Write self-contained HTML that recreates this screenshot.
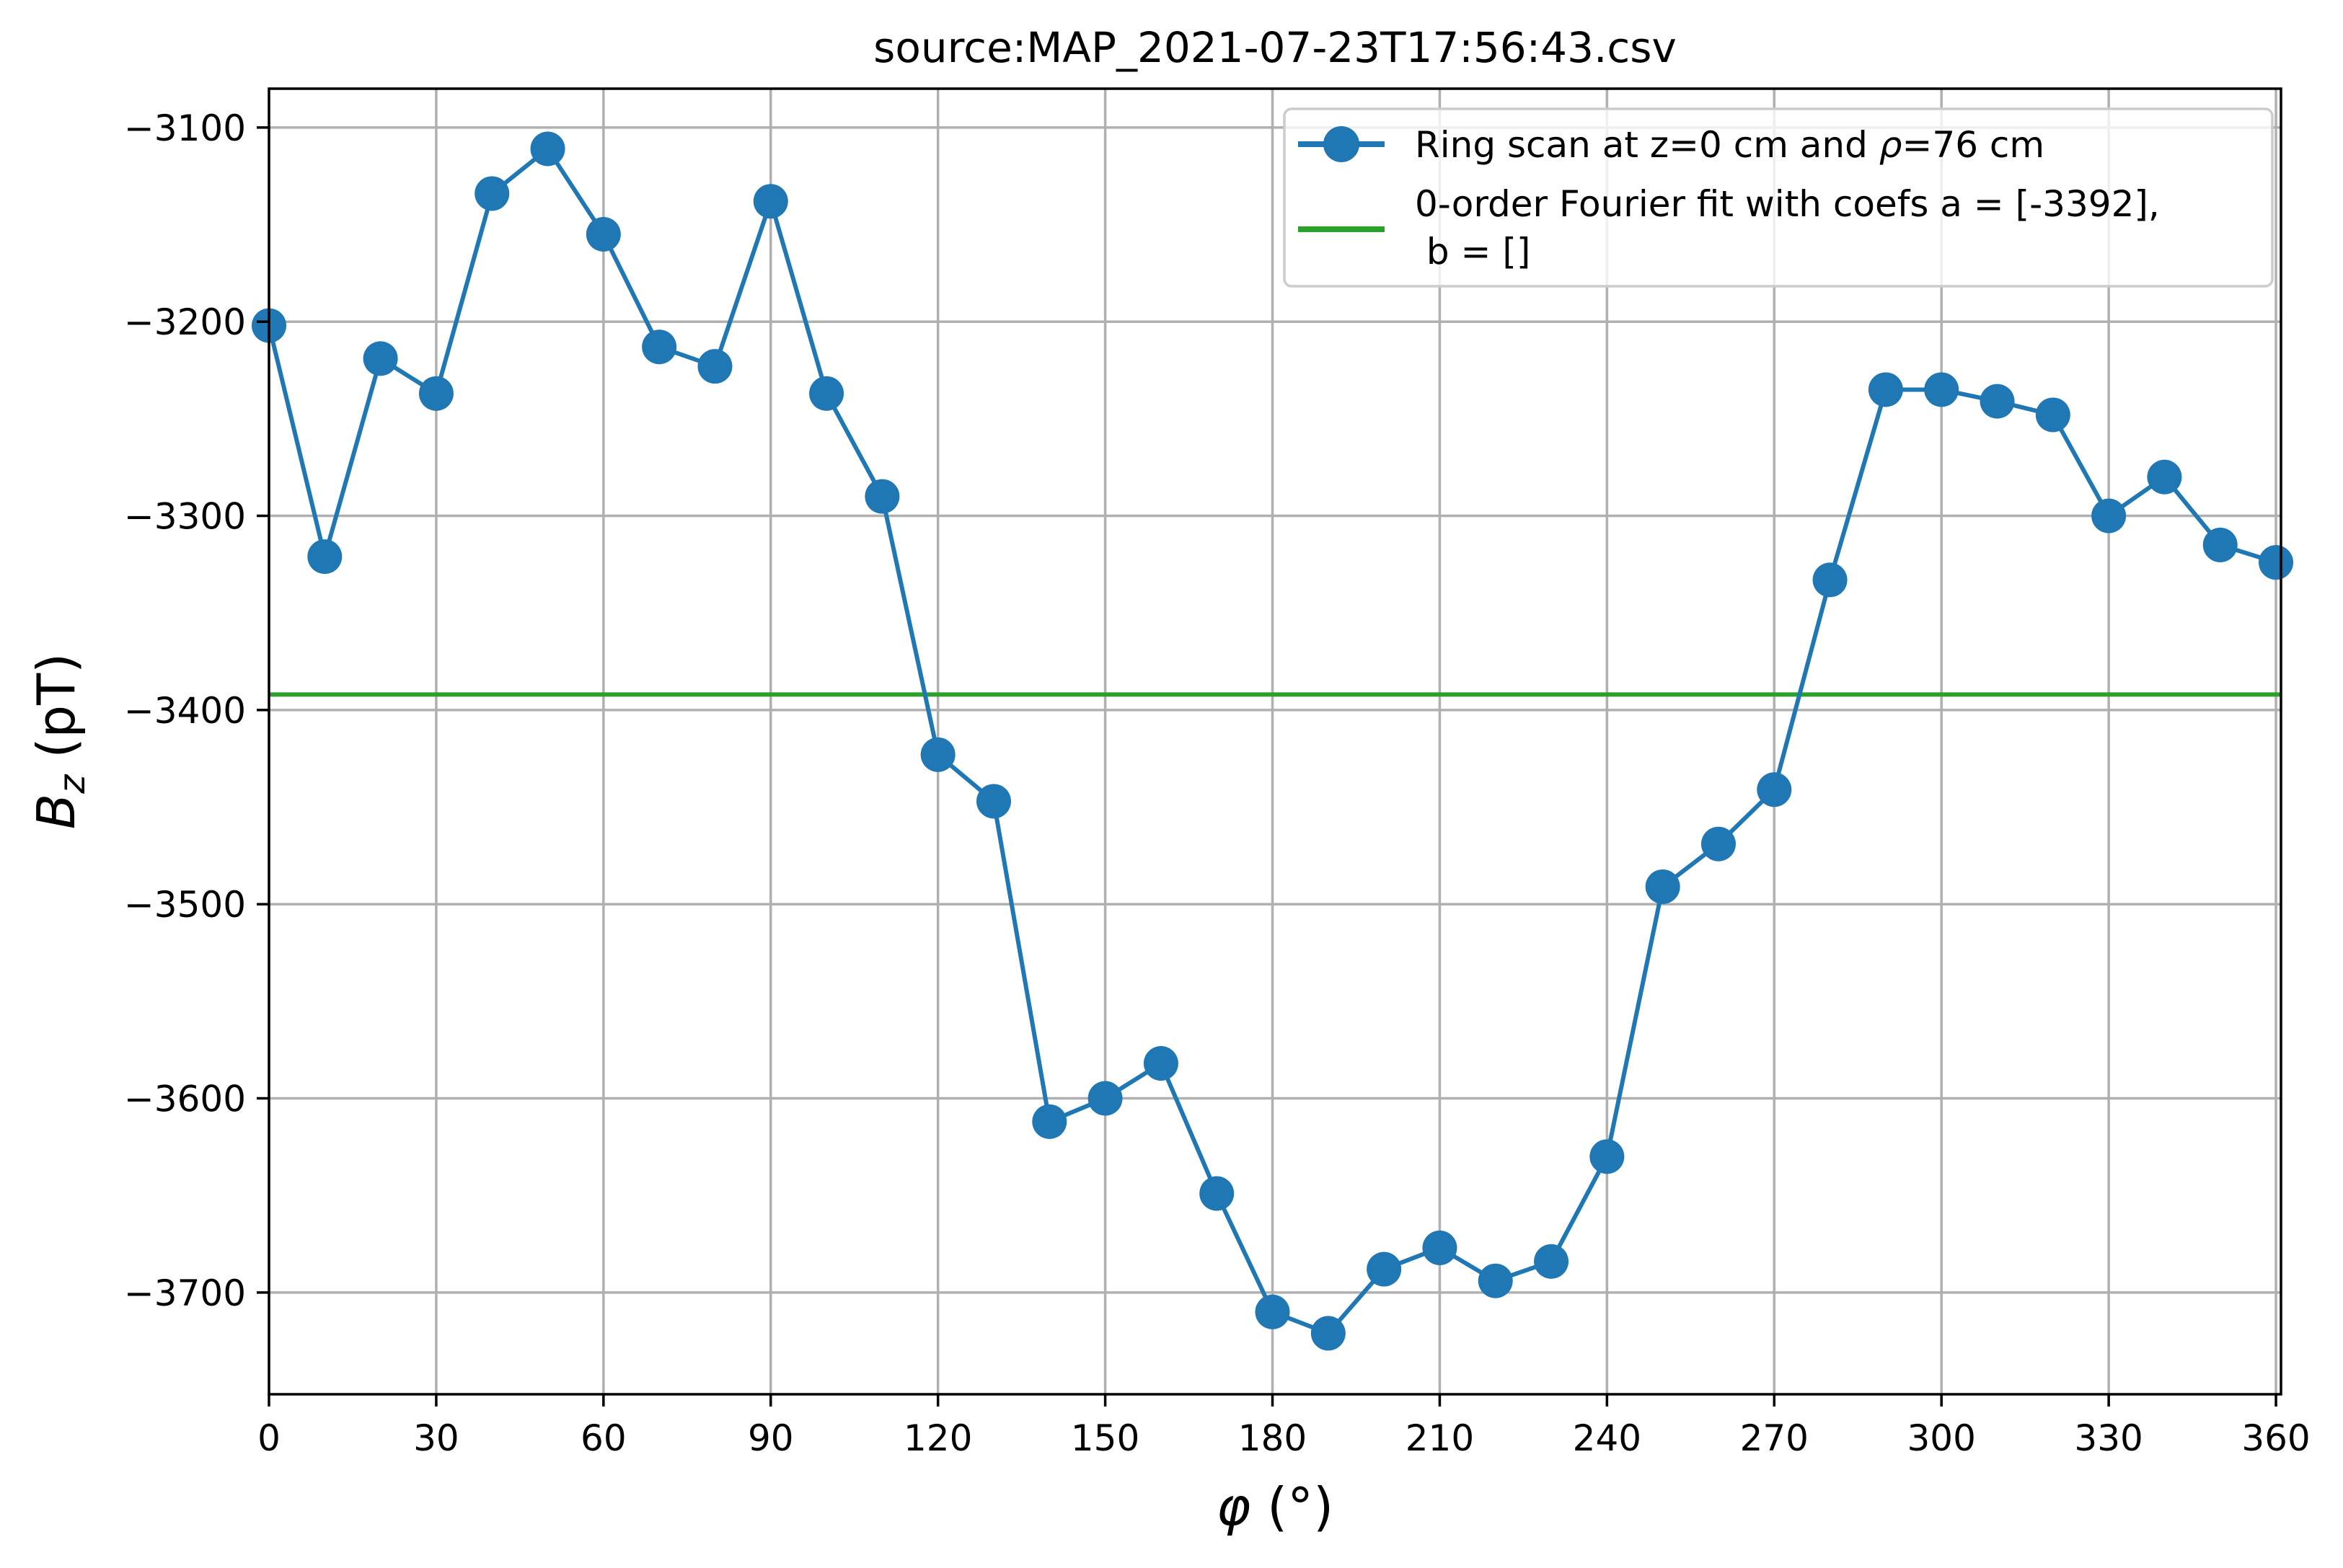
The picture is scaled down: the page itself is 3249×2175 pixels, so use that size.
<!DOCTYPE html>
<html><head><meta charset="utf-8"><style>
html,body{margin:0;padding:0;background:#fff}
svg{display:block}
text{font-family:"DejaVu Sans","Liberation Sans",sans-serif;fill:#000}
</style></head><body>
<svg id="chart" width="3249" height="2175" viewBox="0 0 3249 2175" xmlns="http://www.w3.org/2000/svg">
<rect width="3249" height="2175" fill="#fff"/>
<text x="1768" y="86" font-size="58" text-anchor="middle">source:MAP_2021-07-23T17:56:43.csv</text>
<g id="grid"></g>
<g id="fit"></g>
<g id="series"></g>
<rect x="373" y="123" width="2790" height="1811" fill="none" stroke="#000" stroke-width="3.5"/>
<g id="ticks"></g>
<text x="1768" y="2115" font-size="72" text-anchor="middle"><tspan font-style="italic">φ</tspan> (°)</text>
<text transform="translate(103,1028) rotate(-90)" font-size="72" text-anchor="middle"><tspan font-style="italic">B</tspan><tspan font-style="italic" font-size="50" dy="14">z</tspan><tspan dy="-14"> (pT)</tspan></text>
<g>
<rect x="1781" y="151" width="1370" height="246" rx="10" fill="#fff" fill-opacity="0.8" stroke="#ccc" stroke-width="3.5"/>
<line x1="1800" y1="200" x2="1920" y2="200" stroke="#1f77b4" stroke-width="8"/>
<circle cx="1860" cy="200" r="25" fill="#1f77b4"/>
<text x="1962" y="218" font-size="50">Ring scan at z=0 cm and <tspan font-style="italic">ρ</tspan>=76 cm</text>
<line x1="1800" y1="318" x2="1920" y2="318" stroke="#2ca02c" stroke-width="8"/>
<text x="1962" y="300" font-size="50">0-order Fourier fit with coefs a = [-3392],</text>
<text x="1962" y="366" font-size="50" xml:space="preserve"> b = []</text>
</g>
</svg>
<script>
const phi = [0,10,20,30,40,50,60,70,80,90,100,110,120,130,140,150,160,170,180,190,200,210,220,230,240,250,260,270,280,290,300,310,320,330,340,350,360];
const bz = [-3202,-3321,-3219,-3237,-3134,-3111,-3155,-3213,-3223,-3138,-3237,-3290,-3423,-3447,-3612,-3600,-3582,-3649,-3710,-3721,-3688,-3677,-3694,-3684,-3630,-3491,-3469,-3441,-3333,-3235,-3235,-3241,-3248,-3300,-3280,-3315,-3324];
const fitA = [-3392];
const xTicks = [0,30,60,90,120,150,180,210,240,270,300,330,360];
const yTicks = [-3100,-3200,-3300,-3400,-3500,-3600,-3700];

const L=373,R=3163,T=123,B=1934;
const xmin=0,xmax=360.9;
const ymin=-3752.4,ymax=-3080;
const X=v=>L+(v-xmin)/(xmax-xmin)*(R-L);
const Y=v=>B-(v-ymin)/(ymax-ymin)*(B-T);
const NS='http://www.w3.org/2000/svg';
function mk(tag,attrs,parent){const e=document.createElementNS(NS,tag);for(const k in attrs)e.setAttribute(k,attrs[k]);parent.appendChild(e);return e;}
const grid=document.getElementById('grid'),ticks=document.getElementById('ticks');
xTicks.forEach(t=>{
  const g=mk('line',{x1:X(t),x2:X(t),y1:T,y2:B,stroke:'#b0b0b0','stroke-width':3.5},grid);
  
  
  const tk=mk('line',{x1:X(t),x2:X(t),y1:B,y2:B+17,stroke:'#000','stroke-width':3.5},ticks);
  
  
  const tx=mk('text',{x:X(t),y:B+78,'font-size':50,'text-anchor':'middle'},ticks);
  tx.textContent=t;
  
  
});
yTicks.forEach(t=>{
  const g=mk('line',{x1:L,x2:R,y1:Y(t),y2:Y(t),stroke:'#b0b0b0','stroke-width':3.5},grid);
  
  
  const tk=mk('line',{x1:L-17,x2:L,y1:Y(t),y2:Y(t),stroke:'#000','stroke-width':3.5},ticks);
  
  
  const tx=mk('text',{x:L-32,y:Y(t)+18,'font-size':50,'text-anchor':'end'},ticks);
  tx.textContent='\u2212'+Math.abs(t);
  
  
});
const fit=document.getElementById('fit');
const fl=mk('line',{x1:L,x2:R,y1:Y(fitA[0]),y2:Y(fitA[0]),stroke:'#2ca02c','stroke-width':6},fit);


const s=document.getElementById('series');
const pl=mk('polyline',{points:phi.map((p,i)=>X(p)+','+Y(bz[i])).join(' '),fill:'none',stroke:'#1f77b4','stroke-width':6,'stroke-linejoin':'round'},s);


phi.forEach((p,i)=>{
  const c=mk('circle',{cx:X(p),cy:Y(bz[i]),r:24,fill:'#1f77b4'},s);
  
  
});
</script>
</body></html>
